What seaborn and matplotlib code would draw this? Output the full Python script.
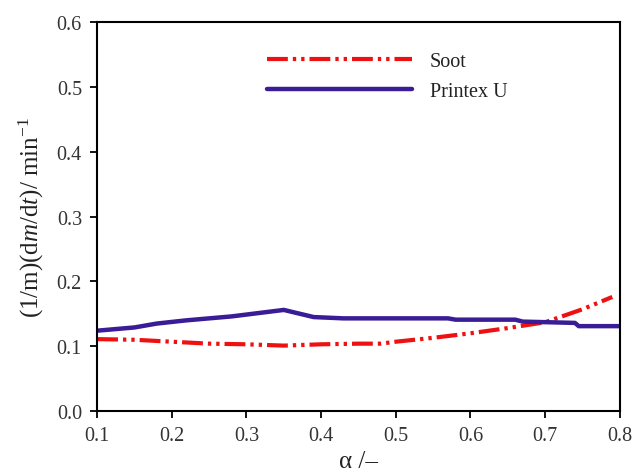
import matplotlib
matplotlib.use("Agg")
import matplotlib.pyplot as plt
import seaborn as sns
import pandas as pd

soot_alpha = [0.10, 0.15, 0.20, 0.25, 0.30, 0.35, 0.40, 0.45, 0.48, 0.50, 0.55, 0.60, 0.65, 0.70, 0.75, 0.79]
soot_rate = [0.111, 0.110, 0.107, 0.104, 0.103, 0.101, 0.103, 0.104, 0.104, 0.107, 0.113, 0.120, 0.128, 0.137, 0.157, 0.176]

printex_alpha = [0.10, 0.13, 0.15, 0.18, 0.22, 0.28, 0.35, 0.39, 0.43, 0.57, 0.58, 0.66, 0.67, 0.74, 0.745, 0.80]
printex_rate = [0.124, 0.127, 0.129, 0.135, 0.140, 0.146, 0.156, 0.145, 0.143, 0.143, 0.141, 0.141, 0.138, 0.136, 0.131, 0.131]

x_ticks = [0.1, 0.2, 0.3, 0.4, 0.5, 0.6, 0.7, 0.8]
y_ticks = [0.0, 0.1, 0.2, 0.3, 0.4, 0.5, 0.6]

sns.set_style("ticks")
plt.rcParams['font.family'] = ['Liberation Serif', 'DejaVu Serif']
plt.rcParams['mathtext.fontset'] = 'custom'
plt.rcParams['mathtext.rm'] = 'Liberation Serif'
plt.rcParams['mathtext.it'] = 'Liberation Serif:italic'

fig = plt.figure(figsize=(6.35, 4.77), dpi=100)
ax = fig.add_axes([0.153, 0.136, 0.823, 0.816])

soot_df = pd.DataFrame({"alpha": soot_alpha, "rate": soot_rate})
pr_df = pd.DataFrame({"alpha": printex_alpha, "rate": printex_rate})

dash_pattern = [5, 1.2, 0.8, 1.2, 0.8, 1.2]

sns.lineplot(data=soot_df, x="alpha", y="rate", ax=ax, color="#ee1111", lw=3.0,
             label="Soot")
sns.lineplot(data=pr_df, x="alpha", y="rate", ax=ax, color="#3a1c96", lw=3.2,
             label="Printex U")
ax.lines[0].set_dashes(dash_pattern)

ax.set_xlim(0.1, 0.8)
ax.set_ylim(0.0, 0.6)
ax.set_xticks(x_ticks)
ax.set_yticks(y_ticks)
ax.set_xticklabels([f"{v:.1f}" for v in x_ticks])
ax.set_yticklabels([f"{v:.1f}" for v in y_ticks])
ax.tick_params(labelsize=14.5, width=1.3, length=5, color="black", labelcolor="#333333", pad=6)
for s in ax.spines.values():
    s.set_linewidth(1.5)
    s.set_color("black")

ax.set_xlabel("α /–", fontsize=18, color="#222222", labelpad=3)
ax.set_ylabel(r"(1/m)(d$\mathit{m}$/d$\mathit{t}$)/ min$^{-1}$", fontsize=18, color="#222222", labelpad=8)

leg = ax.legend(loc="upper left", bbox_to_anchor=(0.29, 0.97), frameon=False,
                fontsize=14.5, handlelength=7.2, handletextpad=0.9, labelspacing=0.55)
leg.get_lines()[0].set_dashes(dash_pattern)
for t in leg.get_texts():
    t.set_color("#222222")

fig.savefig("out.png", dpi=100)
